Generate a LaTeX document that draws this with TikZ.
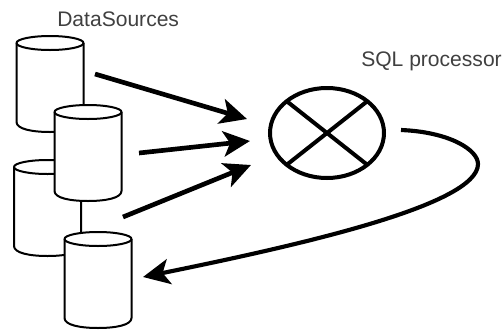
\documentclass[tikz,border=0pt]{standalone}
\usepackage{fontspec}
\setmainfont{Liberation Sans}
\usetikzlibrary{arrows.meta,shapes.geometric,calc}
\tikzset{
  dbbox/.style={rectangle,minimum width=50.25pt,minimum height=72pt,inner sep=0pt,outer sep=0pt},
  dbline/.style={draw=black,line width=1.5pt,fill=white,line join=round},
  flow/.style={line width=3.5pt,-{Stealth[length=20pt,width=19pt,inset=5pt]}},
  backflow/.style={line width=3.1pt,-{Stealth[length=20pt,width=19pt,inset=5pt]}},
  lbl/.style={text=black!75,font=\fontsize{15.8pt}{18pt}\selectfont,inner sep=0pt,anchor=base west},
  proc/.style={ellipse,draw=black,fill=white,line width=3pt,minimum width=85.5pt,minimum height=67.5pt,inner sep=0pt,outer sep=0pt},
  cross/.style={line width=3pt}
}
% #1 name, #2 centre x, #3 centre y (in reference pixels); box is 67 x 96 px
\newcommand{\dbdraw}[3]{%
  \node[dbbox] (#1) at (#2,#3) {};
  \draw[dbline] ($(#2,#3)+(-33.5,-41)$) -- ($(#2,#3)+(-33.5,38)$)
    .. controls ($(#2,#3)+(-33.5,45)$) and ($(#2,#3)+(-18,48)$) .. ($(#2,#3)+(0,48)$)
    .. controls ($(#2,#3)+(18,48)$) and ($(#2,#3)+(33.5,45)$) .. ($(#2,#3)+(33.5,38)$)
    -- ($(#2,#3)+(33.5,-41)$)
    .. controls ($(#2,#3)+(33.5,-45)$) and ($(#2,#3)+(18,-48)$) .. ($(#2,#3)+(0,-48)$)
    .. controls ($(#2,#3)+(-18,-48)$) and ($(#2,#3)+(-33.5,-45)$) .. cycle;
  \draw[dbline,fill=none] ($(#2,#3)+(-33.5,-41)$)
    .. controls ($(#2,#3)+(-33.5,-37)$) and ($(#2,#3)+(-18,-34)$) .. ($(#2,#3)+(0,-34)$)
    .. controls ($(#2,#3)+(18,-34)$) and ($(#2,#3)+(33.5,-37)$) .. ($(#2,#3)+(33.5,-41)$);
}
\begin{document}
\begin{tikzpicture}[x=0.75pt,y=-0.75pt]
\useasboundingbox (0,0) rectangle (504,329);
\dbdraw{c1}{50}{84}
\dbdraw{c3}{47.5}{208}
\dbdraw{c2}{88}{153}
\dbdraw{c4}{98}{280}
\node[proc] (p) at (327,133) {};
\draw[cross] (p.north west) -- (p.south east);
\draw[cross] (p.south west) -- (p.north east);
\node[lbl] (t1) at (57,26) {DataSources};
\node[lbl] (t2) at (361,66.5) {SQL processor};
\coordinate (a1s) at (95,74);
\coordinate (a1e) at (247,119);
\coordinate (a2s) at (139,153);
\coordinate (a2e) at (250,141);
\coordinate (a3s) at (123,217);
\coordinate (a3e) at (251,165);
\coordinate (rs) at (401,130);
\coordinate (re) at (143,277);
\draw[flow] (a1s) -- (a1e);
\draw[flow] (a2s) -- (a2e);
\draw[flow] (a3s) -- (a3e);
\draw[backflow] (rs) .. controls (450,132) and (478,150) .. (478,164)
  .. controls (478,205) and (300,245) .. (re);
\end{tikzpicture}
\end{document}
